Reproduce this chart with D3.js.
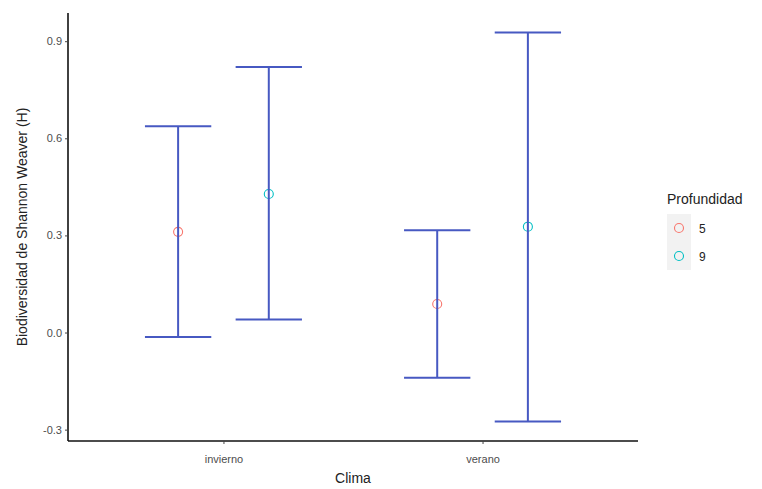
<!DOCTYPE html>
<html>
<head>
<meta charset="utf-8">
<script src="https://cdn.jsdelivr.net/npm/d3@7"></script>
<style>
  html, body { margin: 0; padding: 0; background: #fff; }
  svg { display: block; font-family: "Liberation Sans", Arial, sans-serif; }
</style>
</head>
<body>
<svg id="chart" width="762" height="489"></svg>
<script>
// Shannon-Weaver diversity by season (Clima) and depth (Profundidad)
const climas = ["invierno", "verano"];
const profundidades = ["5", "9"];
const media    = [[0.311, 0.428], [0.088, 0.327]];   // [clima][profundidad]
const inferior = [[-0.014, 0.040], [-0.140, -0.275]];
const superior = [[0.637, 0.820], [0.316, 0.927]];
const yTicks = [-0.3, 0.0, 0.3, 0.6, 0.9];
const colores = ["#F8766D", "#00BFC4"];

const rows = [];
climas.forEach((c, i) => profundidades.forEach((p, j) => rows.push({
  clima: c, prof: p, j, media: media[i][j], lo: inferior[i][j], hi: superior[i][j]
})));

const svg = d3.select("#chart");
const panel = { left: 68, right: 638, top: 13, bottom: 441 };

const x = d3.scalePoint().domain(climas).range([panel.left, panel.right]).padding(0.6);
const step = x.step();
const dodge = d => (d.j === 0 ? -1 : 1) * step * 0.175;
const capHalf = step * 0.128;

const lo = d3.min(rows, d => d.lo), hi = d3.max(rows, d => d.hi);
const pad = (hi - lo) * 0.05;
const y = d3.scaleLinear().domain([lo - pad, hi + pad]).range([panel.bottom, panel.top]);
const color = d3.scaleOrdinal().domain(profundidades).range(colores);

// points (under the error bars)
svg.append("g").selectAll("circle").data(rows).join("circle")
  .attr("cx", d => x(d.clima) + dodge(d))
  .attr("cy", d => y(d.media))
  .attr("r", 4.5)
  .attr("fill", "none")
  .attr("stroke", d => color(d.prof))
  .attr("stroke-width", 1.1);

// error bars
const bars = svg.append("g").attr("stroke", "#4759c2").attr("stroke-width", 2).attr("fill", "none");
rows.forEach(d => {
  const cx = x(d.clima) + dodge(d);
  bars.append("line").attr("x1", cx).attr("x2", cx).attr("y1", y(d.lo)).attr("y2", y(d.hi));
  bars.append("line").attr("x1", cx - capHalf).attr("x2", cx + capHalf).attr("y1", y(d.hi)).attr("y2", y(d.hi));
  bars.append("line").attr("x1", cx - capHalf).attr("x2", cx + capHalf).attr("y1", y(d.lo)).attr("y2", y(d.lo));
});

// axes
const fmt = v => d3.format(".1f")(v).replace("\u2212", "-");
const yAxis = svg.append("g").attr("transform", `translate(${panel.left},0)`)
  .call(d3.axisLeft(y).tickValues(yTicks).tickFormat(fmt).tickSize(3).tickPadding(3));
const xAxis = svg.append("g").attr("transform", `translate(0,${panel.bottom})`)
  .call(d3.axisBottom(x).tickSize(3).tickPadding(11));
[yAxis, xAxis].forEach(g => {
  g.select(".domain").attr("stroke", "#111").attr("stroke-width", 1.6);
  g.selectAll(".tick line").attr("stroke", "#444").attr("stroke-width", 1);
  g.selectAll(".tick text").attr("fill", "#4d4d4d").style("font-size", "11px")
    .style("font-family", "'Liberation Sans', Arial, sans-serif");
});
xAxis.select(".domain").attr("d", `M${panel.left},0H${panel.right}`);
yAxis.select(".domain").attr("d", `M0,${panel.top}V${panel.bottom}`);

// axis titles
svg.append("text").attr("x", (panel.left + panel.right) / 2).attr("y", 483)
  .attr("text-anchor", "middle").attr("fill", "#222").style("font-size", "14px").text("Clima");
svg.append("text").attr("transform", `translate(27,${(panel.top + panel.bottom) / 2}) rotate(-90)`)
  .attr("text-anchor", "middle").attr("fill", "#222").style("font-size", "14px")
  .text("Biodiversidad de Shannon Weaver (H)");

// legend
const lg = svg.append("g").attr("transform", "translate(667,0)");
lg.append("text").attr("x", 0).attr("y", 204).attr("fill", "#222").style("font-size", "14px").text("Profundidad");
profundidades.forEach((p, i) => {
  const cy = 228 + i * 28;
  lg.append("rect").attr("x", 0).attr("y", cy - 14).attr("width", 24).attr("height", 28).attr("fill", "#f2f2f2");
  lg.append("circle").attr("cx", 12).attr("cy", cy).attr("r", 4.5)
    .attr("fill", "none").attr("stroke", color(p)).attr("stroke-width", 1.1);
  lg.append("text").attr("x", 32).attr("y", cy + 4.5).attr("fill", "#222").style("font-size", "12px").text(p);
});
</script>
</body>
</html>
